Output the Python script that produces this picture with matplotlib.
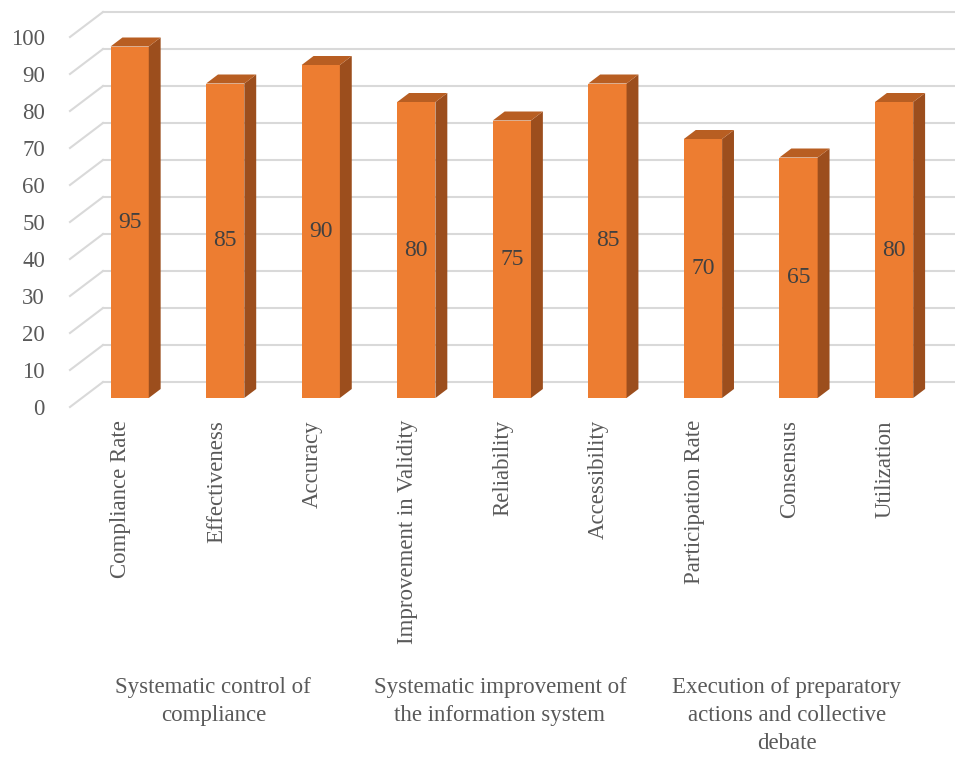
import matplotlib
matplotlib.use("Agg")
import matplotlib.pyplot as plt
from matplotlib.patches import Rectangle, Polygon
from matplotlib.lines import Line2D
import matplotlib.transforms as mtransforms

# data
categories = ["Compliance Rate", "Effectiveness", "Accuracy",
              "Improvement in Validity", "Reliability", "Accessibility",
              "Participation Rate", "Consensus", "Utilization"]
values = [95, 85, 90, 80, 75, 85, 70, 65, 80]
groups = ["Systematic control of\ncompliance",
          "Systematic improvement of\nthe information system",
          "Execution of preparatory\nactions and collective\ndebate"]
group_centers = [1, 4, 7]
yticks = list(range(0, 101, 10))

plt.rcParams['font.family'] = ['Liberation Serif', 'DejaVu Serif']

front = '#ED7D31'
side = '#9C4E1D'
top = '#B85E22'
grid = '#D9D9D9'
txt = '#595959'

fig = plt.figure(figsize=(9.55, 7.58), dpi=100)
ax = fig.add_axes([70/955, 351/758, 860/955, 370/758])
ax.set_xlim(-0.5, 8.5)
ax.set_ylim(0, 100)
ax.patch.set_visible(False)
for s in ax.spines.values():
    s.set_visible(False)
ax.set_xticks([])
ax.set_yticks(yticks)
ax.tick_params(axis='y', length=0, pad=18, labelsize=16.5, labelcolor=txt)

# depth offset (inches at full depth)
DX, DY = 0.33, 0.25


def off(d):
    return ax.transData + mtransforms.ScaledTranslation(DX*d, DY*d, fig.dpi_scale_trans)


def proj(x, y, d):
    px, py = ax.transData.transform((x, y))
    return (px + DX*d*fig.dpi, py + DY*d*fig.dpi)


ident = mtransforms.IdentityTransform()

# back wall + side wall gridlines
for v in yticks:
    ax.plot([-0.5, 8.5], [v, v], color=grid, lw=1.5, transform=off(1), clip_on=False, zorder=1)
    p0 = proj(-0.5, v, 0)
    p1 = proj(-0.5, v, 1)
    fig.add_artist(Line2D([p0[0], p1[0]], [p0[1], p1[1]], color=grid, lw=1.5, transform=ident))

# bars
d0, d1 = 0.36, 0.72
w = 0.2
for i, v in enumerate(values):
    ax.add_patch(Rectangle((i - w, 0), 2*w, v, facecolor=front, edgecolor='none',
                           transform=off(d0), clip_on=False, zorder=3))
    sp = [proj(i + w, 0, d0), proj(i + w, 0, d1), proj(i + w, v, d1), proj(i + w, v, d0)]
    fig.add_artist(Polygon(sp, closed=True, facecolor=side, edgecolor='none', transform=ident, zorder=3))
    tp = [proj(i - w, v, d0), proj(i + w, v, d0), proj(i + w, v, d1), proj(i - w, v, d1)]
    fig.add_artist(Polygon(tp, closed=True, facecolor=top, edgecolor='none', transform=ident, zorder=3))
    ax.text(i, v/2, str(v), ha='center', va='center', fontsize=17, color='#404040',
            transform=off(d0), zorder=4)

# category labels
lab_tr = ax.transData + mtransforms.ScaledTranslation(0.03, -0.13, fig.dpi_scale_trans)
for i, c in enumerate(categories):
    ax.text(i, 0, c, rotation=90, ha='center', va='top', fontsize=16.5, color=txt,
            transform=lab_tr, clip_on=False)

# group labels
gtr = mtransforms.blended_transform_factory(ax.transData, fig.transFigure)
for x, g in zip(group_centers, groups):
    ax.text(x, (758 - 677)/758, g, ha='center', va='top', fontsize=16.5, color=txt,
            linespacing=1.45, multialignment='center', transform=gtr, clip_on=False)

fig.savefig("out.png", dpi=100, facecolor='white')
